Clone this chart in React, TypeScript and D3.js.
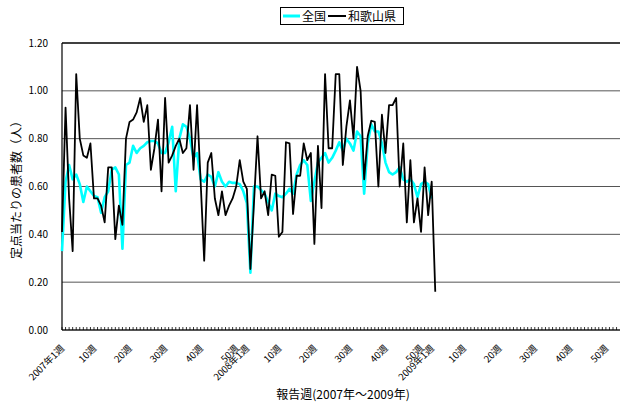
import React from 'react';
import * as d3 from 'd3';

// 定点当たりの患者数 — 和歌山県 vs 全国
const years = [2007, 2008, 2009];
const weeksPerYear = 52;
const labeledWeeks = [1, 10, 20, 30, 40, 50];
const yTicks = [0, 0.2, 0.4, 0.6, 0.8, 1.0, 1.2];

const national2007 = [
  0.33, 0.62, 0.69, 0.63, 0.65, 0.61, 0.535, 0.6, 0.58, 0.56, 0.555, 0.49, 0.555,
  0.58, 0.67, 0.68, 0.65, 0.34, 0.69, 0.7, 0.77, 0.74, 0.76, 0.77, 0.785, 0.79,
  0.79, 0.78, 0.74, 0.74, 0.785, 0.85, 0.58, 0.8, 0.86, 0.85, 0.8, 0.72, 0.74,
  0.63, 0.62, 0.65, 0.64, 0.6, 0.66, 0.62, 0.6, 0.62, 0.615, 0.615, 0.61, 0.58,
];
const national2008 = [
  0.53, 0.24, 0.6, 0.6, 0.585, 0.57, 0.535, 0.5, 0.57, 0.56, 0.555, 0.57, 0.59,
  0.57, 0.65, 0.69, 0.71, 0.69, 0.54, 0.62, 0.7, 0.72, 0.74, 0.7, 0.72, 0.75,
  0.785, 0.75, 0.8, 0.78, 0.75, 0.83, 0.81, 0.57, 0.78, 0.86, 0.83, 0.83, 0.78,
  0.7, 0.66, 0.65, 0.66, 0.68, 0.63, 0.62, 0.63, 0.61, 0.555, 0.61, 0.62, 0.61,
];
const national2009 = [0.55];

const wakayama2007 = [
  0.41, 0.93, 0.55, 0.33, 1.07, 0.8, 0.73, 0.72, 0.78, 0.55, 0.55, 0.52, 0.45,
  0.68, 0.68, 0.38, 0.52, 0.44, 0.8, 0.87, 0.88, 0.91, 0.97, 0.87, 0.94, 0.67,
  0.76, 0.88, 0.58, 0.97, 0.7, 0.73, 0.77, 0.8, 0.74, 0.76, 0.94, 0.67, 0.94,
  0.62, 0.29, 0.7, 0.74, 0.55, 0.48, 0.58, 0.48, 0.52, 0.55, 0.6, 0.71, 0.62,
];
const wakayama2008 = [
  0.59, 0.255, 0.53, 0.81, 0.55, 0.58, 0.48, 0.65, 0.645, 0.39, 0.41, 0.785, 0.78,
  0.485, 0.645, 0.645, 0.78, 0.71, 0.74, 0.36, 0.77, 0.51, 1.07, 0.76, 0.76, 1.07,
  1.07, 0.69, 0.85, 0.96, 0.8, 1.1, 1.0, 0.63, 0.81, 0.875, 0.87, 0.6, 0.9,
  0.74, 0.94, 0.94, 0.97, 0.6, 0.78, 0.45, 0.71, 0.45, 0.55, 0.41, 0.68, 0.48,
];
const wakayama2009 = [0.62, 0.16];

const W = 620;
const H = 409;
const left = 62;
const right = 613;
const gridRight = 620;
const top = 43;
const bottom = 330;
const font = '"Noto Sans CJK JP", "Noto Sans", sans-serif';

const weeks = years.flatMap(yr => d3.range(1, weeksPerYear + 1).map(w => ({ yr, w, key: `${yr}-${w}` })));
const national = [...national2007, ...national2008, ...national2009];
const wakayama = [...wakayama2007, ...wakayama2008, ...wakayama2009];

const x = d3.scalePoint<string>().domain(weeks.map(d => d.key)).range([left, right]).padding(0);
const y = d3.scaleLinear().domain([0, 1.2]).range([bottom, top]);

const line = d3.line<number>()
  .x((_, i) => x(weeks[i].key) as number)
  .y(d => y(d));

const fmt = d3.format('.2f');

const App = () => {
  const step = x.step();
  const tickXs = d3.range(left, gridRight + 0.1, step);
  const labels = weeks.filter(d => labeledWeeks.includes(d.w));

  return (
    <div style={{ position: 'absolute', left: 0, top: 0 }}>
      <svg width={W} height={H} viewBox={`0 0 ${W} ${H}`} style={{ display: 'block', background: '#fff', fontFamily: font }}>
        {/* grid */}
        {yTicks.map(t => (
          <line key={t} x1={left} x2={gridRight} y1={y(t)} y2={y(t)}
            stroke={t === 1.2 ? '#000' : '#555'} strokeWidth={t === 1.2 ? 1.5 : 1} />
        ))}
        {yTicks.map(t => (
          <text key={'l' + t} x={48} y={y(t)} dy="0.35em" textAnchor="end" fontSize={10}>{fmt(t)}</text>
        ))}

        {/* axes */}
        <line x1={left} x2={left} y1={top} y2={bottom} stroke="#000" strokeWidth={1.2} />
        <line x1={left} x2={gridRight} y1={bottom} y2={bottom} stroke="#000" strokeWidth={1.2} />
        {tickXs.map((tx, i) => (
          <line key={'t' + i} x1={tx} x2={tx} y1={bottom - 3} y2={bottom} stroke="#000" strokeWidth={0.8} />
        ))}

        {/* x labels */}
        {labels.map(d => {
          const px = (x(d.key) as number) + 3;
          const py = 349;
          return (
            <text key={'x' + d.key} transform={`translate(${px},${py}) rotate(-45)`} textAnchor="end" fontSize={9.5}>
              {d.w === 1 ? `${d.yr}年1週` : `${d.w}週`}
            </text>
          );
        })}

        {/* series */}
        <path d={line(national) ?? ''} fill="none" stroke="#00ffff" strokeWidth={2.6} strokeLinejoin="round" />
        <path d={line(wakayama) ?? ''} fill="none" stroke="#000" strokeWidth={1.8} strokeLinejoin="round" />

        {/* titles */}
        <text transform="translate(21,187) rotate(-90)" textAnchor="middle" fontSize={12}>定点当たりの患者数（人）</text>
        <text x={343} y={399} textAnchor="middle" fontSize={12}>報告週(2007年～2009年)</text>

        {/* legend */}
        <rect x={280.5} y={7.5} width={123} height={17} fill="#fff" stroke="#000" strokeWidth={1} />
        <line x1={283} x2={300} y1={16} y2={16} stroke="#00ffff" strokeWidth={3} />
        <text x={302} y={20.5} fontSize={12}>全国</text>
        <line x1={328} x2={346} y1={16} y2={16} stroke="#000" strokeWidth={2} />
        <text x={348} y={20.5} fontSize={12}>和歌山県</text>
      </svg>
    </div>
  );
};

export default App;
